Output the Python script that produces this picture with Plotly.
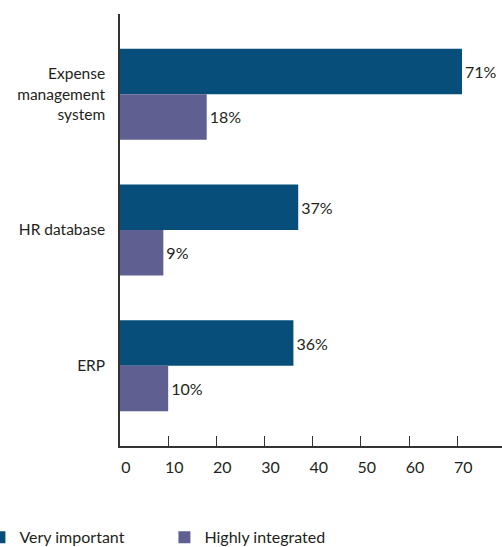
import plotly.graph_objects as go

categories = ["Expense<br>management<br>system", "HR database", "ERP"]
very_important = [71, 37, 36]
highly_integrated = [18, 9, 10]
series_names = ["Very important", "Highly integrated"]
tick_vals = [0, 10, 20, 30, 40, 50, 60, 70]

dark = "#074F7A"
purple = "#605F92"
txt = "#231F20"
font = "Lato, 'Open Sans', sans-serif"

fig = go.Figure()
fig.add_trace(go.Bar(
    y=categories, x=very_important, orientation="h", name=series_names[0],
    marker=dict(color=dark, line=dict(width=0)),
    text=[f"{v}%" for v in very_important], textposition="outside",
    textfont=dict(size=16, color=txt, family=font), cliponaxis=False,
))
fig.add_trace(go.Bar(
    y=categories, x=highly_integrated, orientation="h", name=series_names[1],
    marker=dict(color=purple, line=dict(width=0)),
    text=[f"{v}%" for v in highly_integrated], textposition="outside",
    textfont=dict(size=16, color=txt, family=font), cliponaxis=False,
))

fig.update_layout(
    width=502, height=547,
    margin=dict(l=120, r=0, t=14, b=101, pad=0, autoexpand=False),
    paper_bgcolor="white", plot_bgcolor="white",
    barmode="group", bargap=0.33, bargroupgap=0,
    font=dict(family=font, size=15, color=txt),
    showlegend=True,
    legend=dict(
        orientation="h", x=-0.368, xanchor="left", y=-0.172, yanchor="top",
        entrywidth=140, entrywidthmode="pixels",
        font=dict(size=16, color=txt, family=font),
        traceorder="normal", bgcolor="rgba(0,0,0,0)",
    ),
    uniformtext=dict(mode=False),
)
fig.update_xaxes(
    range=[0, 79.3], tickvals=tick_vals, ticktext=[str(v) for v in tick_vals],
    showgrid=False, zeroline=False, showline=True, linecolor="#333333", linewidth=1.5,
    ticks="inside", ticklen=10, tickwidth=1.2, tickcolor="#333333",
    tickfont=dict(size=16, color=txt, family=font),
    ticklabelstandoff=6, ticklabelshift=6, automargin=False,
)
fig.update_yaxes(
    range=[2.59, -0.59], showgrid=False, zeroline=False,
    showline=True, linecolor="#333333", linewidth=1.5,
    ticks="", tickfont=dict(size=15.5, color=txt, family=font),
    ticklabelstandoff=10, automargin=False,
)

fig.write_html(
    "out.html",
    config={"displayModeBar": False},
    post_script="document.body.style.margin='0';document.body.style.overflow='hidden';",
)
